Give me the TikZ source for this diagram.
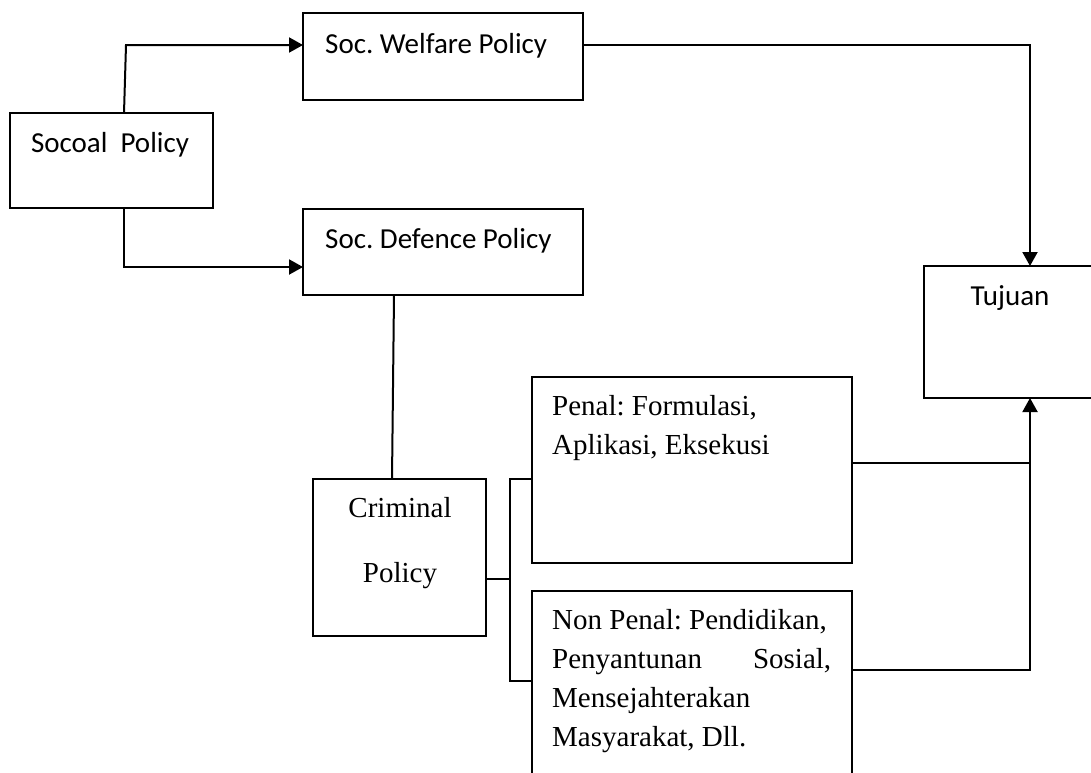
\documentclass[tikz,border=0pt]{standalone}
\usepackage{fontspec}
\setmainfont{Liberation Serif}
\newfontfamily\calfont{Carlito}
\usetikzlibrary{arrows.meta}
\begin{document}
\frenchspacing
\begin{tikzpicture}[x=1pt,y=-1pt,
  box/.style 2 args={draw, line width=2pt, inner sep=0pt, outer sep=0pt, anchor=north west, minimum width=#1, minimum height=#2},
  sanstext/.style={inner sep=0pt, font=\calfont\fontsize{29}{35}\selectfont\frenchspacing},
  sertext/.style={inner sep=0pt, anchor=base west, font=\fontsize{29}{39}\selectfont\frenchspacing},
  conn/.style={line width=2pt},
  arr/.style={line width=2pt, -{Triangle[length=14pt,width=15pt]}}]
\useasboundingbox (0,0) rectangle (1091,772);
% boxes
\node[box={203pt}{95pt}] (soc) at (10,113) {};
\node[box={280pt}{87pt}] (wel) at (303,13) {};
\node[box={280pt}{86pt}] (def) at (303,209) {};
\node[box={172pt}{132pt}] (tuj) at (924,266) {};
\node[box={320pt}{186pt}] (pen) at (532,377) {};
\node[box={320pt}{200pt}] (npen) at (532,591) {};
\node[box={173pt}{157pt}] (crim) at (313,479) {};
% texts
\node[sanstext, anchor=base] (tsoc) at (110,152) {Socoal\ \ Policy};
\node[sanstext, anchor=base west] (twel) at (325,53) {Soc. Welfare Policy};
\node[sanstext, anchor=base west] (tdef) at (325,248) {Soc. Defence Policy};
\node[sanstext, anchor=base] (ttuj) at (1010,305) {Tujuan};
\node[sertext] (tpen) at (552,415) {\vtop{\baselineskip=39pt \hbox{Penal: Formulasi,}\hbox{Aplikasi, Eksekusi}}};
\node[sertext] (tnpen) at (552,629) {\vtop{\baselineskip=39pt \hbox{Non Penal: Pendidikan,}\hbox to 279pt{Penyantunan\hfill Sosial,}\hbox{Mensejahterakan}\hbox{Masyarakat, Dll.}}};
\node[sertext, anchor=base] (tcrim) at (400,517) {\vtop{\baselineskip=65pt \hbox to 0pt{\hss Criminal\hss}\hbox to 0pt{\hss Policy\hss}}};
% bend points
\coordinate (c1) at (126,45);
\coordinate (c2) at (124,267);
\coordinate (c3) at (1030,45);
\coordinate (b0) at (510,579);
\coordinate (b1) at (510,479);
\coordinate (b2) at (510,681);
\coordinate (j1) at (1030,463);
\coordinate (j2) at (1030,670);
% connectors
\draw[arr] ([xshift=114pt]soc.north west) -- (c1) -- (c1 -| wel.west);
\draw[arr] ([xshift=114pt]soc.south west) -- (c2) -- (c2 -| def.west);
\draw[arr] (wel.east |- c3) -- (c3) -- (c3 |- tuj.north);
\draw[conn] ([xshift=91pt]def.south west) -- ([xshift=79pt]crim.north west);
\draw[conn] (crim.east |- b0) -- (b0);
\draw[conn] (pen.west |- b1) -- (b1) -- (b2) -- (npen.west |- b2);
\draw[conn] (pen.east |- j1) -- (j1);
\draw[arr] (npen.east |- j2) -- (j2) -- (j2 |- tuj.south);
\end{tikzpicture}
\end{document}
